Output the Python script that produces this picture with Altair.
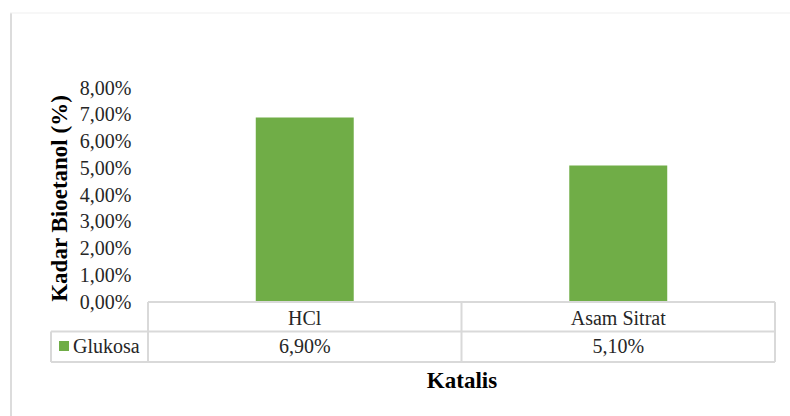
import altair as alt
import pandas as pd

# Chart data
katalis = ["HCl", "Asam Sitrat"]
kadar_persen = [6.90, 5.10]
seri = "Glukosa"
tick_values = [0, 1, 2, 3, 4, 5, 6, 7, 8]

df = pd.DataFrame({
    "katalis": katalis,
    "kadar": kadar_persen,
    "label": [f"{v:.2f}".replace(".", ",") + "%" for v in kadar_persen],
})

FONT = "Liberation Serif, Times New Roman, serif"
GREEN = "#70AD47"
LINE = "#d9d9d9"
TEXT = "#262626"

W, H = 627, 214  # plot area

x_enc = alt.X(
    "katalis:N",
    sort=katalis,
    scale=alt.Scale(paddingInner=0.6875, paddingOuter=0.34375),
    axis=alt.Axis(
        labels=False, ticks=False, domain=False, grid=False,
        title="Katalis", titleFont=FONT, titleFontSize=23, titleFontWeight="bold",
        titleColor="#000000", titleY=78, titleBaseline="middle",
    ),
)

bars = alt.Chart(df).mark_bar(color=GREEN).encode(
    x=x_enc,
    y=alt.Y(
        "kadar:Q",
        scale=alt.Scale(domain=[0, 8], nice=False),
        axis=alt.Axis(
            values=tick_values,
            labelExpr="replace(format(datum.value, '.2f'), '.', ',') + '%'",
            labelFont=FONT, labelFontSize=20, labelColor=TEXT, labelPadding=17,
            domain=False, ticks=False, grid=False,
            title="Kadar Bioetanol (%)", titleFont=FONT, titleFontSize=23,
            titleFontWeight="bold", titleColor="#000000",
            titleX=-89, titleY=110, titleBaseline="middle", titleAlign="center",
        ),
    ),
)

# Data table below the bars: category row and value row
cat_row = alt.Chart(df).mark_text(font=FONT, fontSize=20, color=TEXT).encode(
    x=alt.X("katalis:N", sort=katalis),
    y=alt.value(231),
    text="katalis:N",
)
val_row = alt.Chart(df).mark_text(font=FONT, fontSize=20, color=TEXT).encode(
    x=alt.X("katalis:N", sort=katalis),
    y=alt.value(259),
    text="label:N",
)

legend_df = pd.DataFrame({"seri": [seri]})
legend_key = alt.Chart(legend_df).mark_square(size=100, color=GREEN, opacity=1).encode(
    x=alt.value(-84), y=alt.value(258)
)
legend_text = alt.Chart(legend_df).mark_text(
    font=FONT, fontSize=20, color=TEXT, align="left"
).encode(x=alt.value(-75), y=alt.value(259), text="seri:N")


def hline(x0, x1, y, color=LINE, w=2):
    return alt.Chart(legend_df).mark_rule(color=color, strokeWidth=w).encode(
        x=alt.value(x0), x2=alt.value(x1), y=alt.value(y)
    )


def vline(x, y0, y1, color=LINE, w=2):
    return alt.Chart(legend_df).mark_rule(color=color, strokeWidth=w).encode(
        x=alt.value(x), y=alt.value(y0), y2=alt.value(y1)
    )


grid_lines = [
    hline(0, W, 214),
    hline(-97, W, 243.5),
    hline(-97, W, 274),
    vline(0, 214, 274),
    vline(313.5, 214, 274),
    vline(W, 214, 274),
    vline(-97, 243.5, 274),
    # chart area border
    vline(-137, -75, 330, color="#dcdcdc", w=2),
    hline(-138, 645, -75, color="#efefef", w=1),
]

chart = alt.layer(
    bars, cat_row, val_row, legend_key, legend_text, *grid_lines
).properties(
    width=W,
    height=H,
    autosize=alt.AutoSizeParams(type="none"),
    padding={"left": 148, "top": 88, "right": 15, "bottom": 114},
    background="white",
).configure_view(stroke=None)

chart.save("out.html", embed_options={"renderer": "svg", "actions": False})
